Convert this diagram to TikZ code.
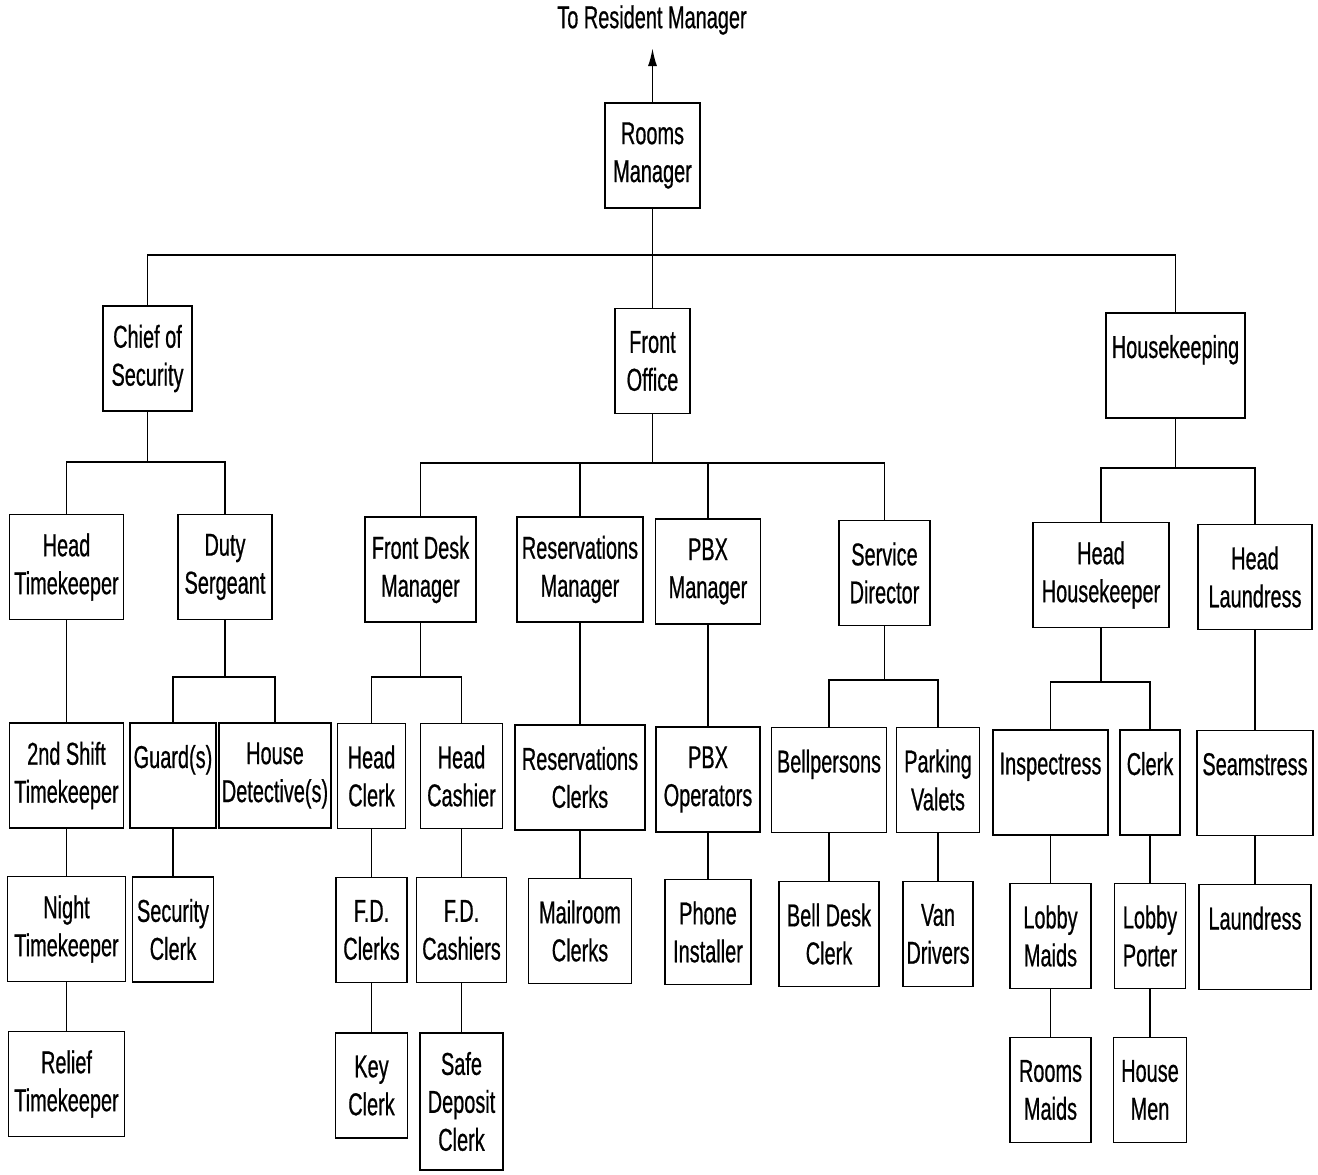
\documentclass[tikz,border=0pt]{standalone}
\usepackage{fontspec}
\setmainfont{Liberation Sans}[FakeStretch=0.63,FakeBold=0.6]
\usetikzlibrary{positioning,arrows.meta}

\begin{document}
\begin{tikzpicture}[
x=0.02cm,y=-0.02cm,
box/.style={draw,line width=1.1pt,minimum height=2.1cm,align=center,inner sep=0pt,font=\fontsize{18}{21.6}\selectfont},
link/.style={line width=1.1pt},
>={Latex[length=3.6mm,width=1.8mm]}]
\useasboundingbox (0,0) rectangle (1318,1174);
% top level
\node (top) at (652,20) [font=\fontsize{18}{21.6}\selectfont] {To Resident Manager};
\node (rooms) at (652.5,155.5) [box,minimum width=1.9cm] {Rooms\\Manager};
\node (chief) at (147.5,358.5) [box,minimum width=1.78cm] {Chief of\\Security};
\node (fo) at (652.5,361) [box,minimum width=1.5cm] {Front\\Office};
\node (hk) at (1175.5,365.5) [box,minimum width=2.78cm] {Housekeeping\\~};
% security
\node (headtk) at (66.5,567) [box,minimum width=2.28cm] {Head\\Timekeeper};
\node (duty) at (225,567) [box,minimum width=1.88cm] {Duty\\Sergeant};
\node (shift) at (66.5,775.5) [box,minimum width=2.28cm] {2nd Shift\\Timekeeper};
\node (night) at (66.5,929) [box,minimum width=2.36cm] {Night\\Timekeeper};
\node (relief) at (66.5,1084) [box,minimum width=2.32cm] {Relief\\Timekeeper};
\node (guard) at (173,775.5) [box,minimum width=1.72cm] {Guard(s)\\~};
\node (hdet) at (275,775.5) [box,minimum width=2.24cm] {House\\Detective(s)};
\node (secclerk) at (173,929.5) [box,minimum width=1.62cm] {Security\\Clerk};
% front office
\node (fdm) at (420.5,569.5) [box,minimum width=2.22cm] {Front Desk\\Manager};
\node (resm) at (580,569.5) [box,minimum width=2.52cm] {Reservations\\Manager};
\node (pbxm) at (708,571.5) [box,minimum width=2.1cm] {PBX\\Manager};
\node (sd) at (884.5,573) [box,minimum width=1.82cm] {Service\\Director};
\node (hclerk) at (371.5,776) [box,minimum width=1.36cm] {Head\\Clerk};
\node (hcash) at (461.5,776) [box,minimum width=1.64cm] {Head\\Cashier};
\node (fdclerks) at (371.5,930) [box,minimum width=1.42cm] {F.D.\\Clerks};
\node (fdcash) at (461.5,930) [box,minimum width=1.8cm] {F.D.\\Cashiers};
\node (key) at (371.5,1085.5) [box,minimum width=1.44cm] {Key\\Clerk};
\node (safe) at (461.5,1101.5) [box,minimum width=1.66cm,minimum height=2.74cm] {Safe\\Deposit\\Clerk};
\node (resclerks) at (580,777.5) [box,minimum width=2.6cm] {Reservations\\Clerks};
\node (mail) at (580,931) [box,minimum width=2.06cm] {Mailroom\\Clerks};
\node (pbxop) at (708,779.5) [box,minimum width=2.08cm] {PBX\\Operators};
\node (phone) at (708,932) [box,minimum width=1.72cm] {Phone\\Installer};
\node (bell) at (829,780) [box,minimum width=2.3cm] {Bellpersons\\~};
\node (valets) at (938,780) [box,minimum width=1.66cm] {Parking\\Valets};
\node (belldesk) at (829,934) [box,minimum width=2cm] {Bell Desk\\Clerk};
\node (van) at (938,934) [box,minimum width=1.4cm] {Van\\Drivers};
% housekeeping
\node (hhk) at (1101,575) [box,minimum width=2.72cm] {Head\\Housekeeper};
\node (hlaund) at (1255,577) [box,minimum width=2.28cm] {Head\\Laundress};
\node (insp) at (1050.5,782.5) [box,minimum width=2.3cm] {Inspectress\\~};
\node (clerk) at (1150,782.5) [box,minimum width=1.2cm] {Clerk\\~};
\node (lmaids) at (1050.5,936) [box,minimum width=1.62cm] {Lobby\\Maids};
\node (lporter) at (1150,936) [box,minimum width=1.42cm] {Lobby\\Porter};
\node (rmaids) at (1050.5,1090) [box,minimum width=1.62cm] {Rooms\\Maids};
\node (hmen) at (1150,1090) [box,minimum width=1.46cm] {House\\Men};
\node (seam) at (1255,783) [box,minimum width=2.32cm] {Seamstress\\~};
\node (laund) at (1255,937) [box,minimum width=2.24cm] {Laundress\\~};
% bus points
\coordinate (topbus) at (652.5,255);
\coordinate (secbus) at (147.5,462);
\coordinate (dutybus) at (225,677);
\coordinate (fobus) at (652.5,463);
\coordinate (fdmbus) at (420.5,677);
\coordinate (sdbus) at (884.5,680);
\coordinate (hkbus) at (1175.5,468);
\coordinate (hhkbus) at (1101,682);
% connectors
\draw[->,link] (rooms.north)--(652.5,48);
\draw[link] (rooms.south)--(fo.north);
\draw[link] (chief.north) |- (topbus) -| (hk.north);
\draw[link] (chief.south)--(secbus);
\draw[link] (headtk.north) |- (secbus) -| (duty.north);
\draw[link] (headtk.south)--(shift.north);
\draw[link] (shift.south)--(night.north);
\draw[link] (night.south)--(relief.north);
\draw[link] (duty.south)--(dutybus);
\draw[link] (guard.north) |- (dutybus) -| (hdet.north);
\draw[link] (guard.south)--(secclerk.north);
\draw[link] (fo.south)--(fobus);
\draw[link] (fdm.north) |- (fobus) -| (sd.north);
\draw[link] (resm.north)--(resm.north |- fobus);
\draw[link] (pbxm.north)--(pbxm.north |- fobus);
\draw[link] (fdm.south)--(fdmbus);
\draw[link] (hclerk.north) |- (fdmbus) -| (hcash.north);
\draw[link] (hclerk.south)--(fdclerks.north);
\draw[link] (fdclerks.south)--(key.north);
\draw[link] (hcash.south)--(fdcash.north);
\draw[link] (fdcash.south)--(safe.north);
\draw[link] (resm.south)--(resclerks.north);
\draw[link] (resclerks.south)--(mail.north);
\draw[link] (pbxm.south)--(pbxop.north);
\draw[link] (pbxop.south)--(phone.north);
\draw[link] (sd.south)--(sdbus);
\draw[link] (bell.north) |- (sdbus) -| (valets.north);
\draw[link] (bell.south)--(belldesk.north);
\draw[link] (valets.south)--(van.north);
\draw[link] (hk.south)--(hkbus);
\draw[link] (hhk.north) |- (hkbus) -| (hlaund.north);
\draw[link] (hhk.south)--(hhkbus);
\draw[link] (insp.north) |- (hhkbus) -| (clerk.north);
\draw[link] (insp.south)--(lmaids.north);
\draw[link] (lmaids.south)--(rmaids.north);
\draw[link] (clerk.south)--(lporter.north);
\draw[link] (lporter.south)--(hmen.north);
\draw[link] (hlaund.south)--(seam.north);
\draw[link] (seam.south)--(laund.north);
\end{tikzpicture}
\end{document}
